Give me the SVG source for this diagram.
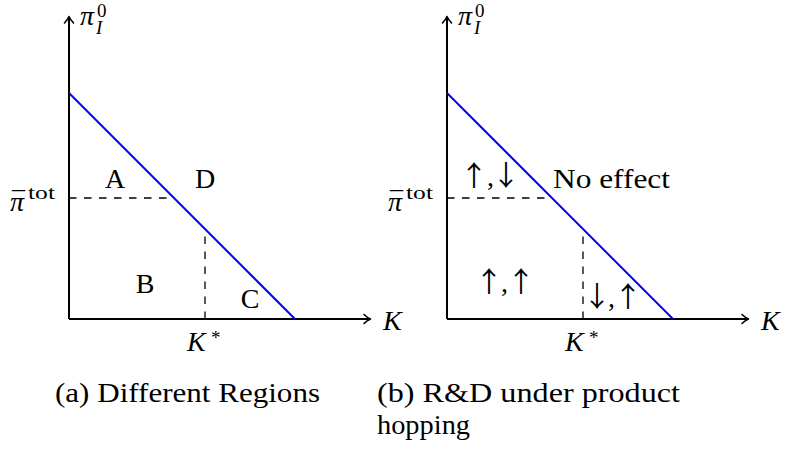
<svg xmlns="http://www.w3.org/2000/svg" width="785" height="451" viewBox="0 0 785 451">
<style>
text{font-family:"Liberation Serif","DejaVu Serif",serif;fill:#000}
.t{font-size:28px}
.s{font-size:19px}
.i{font-style:italic}
.ar{font-family:"Noto Sans CJK JP","DejaVu Sans",sans-serif;font-size:28px;text-anchor:middle}
.ax{stroke:#000;stroke-width:2;fill:none}
.ah{stroke:#000;stroke-width:1.6;fill:none;stroke-linecap:round;stroke-linejoin:round}
.bl{stroke:#0000ff;stroke-width:2;fill:none}
.da{stroke:#000;stroke-width:1.3;stroke-dasharray:7.5 7.5;fill:none}
</style>
<rect width="785" height="451" fill="#fff"/>
<g id="panel-a">
  <g id="connectors-a">
    <path class="ax" d="M69,319 V17 M69,319 H370"/>
    <path class="ah" d="M64.5,23 Q67.5,20 69,16.5 Q70.5,20 73.5,23"/>
    <path class="ah" d="M364,314.5 Q367,317.5 370.5,319 Q367,320.5 364,323.5"/>
    <path class="bl" d="M69,93 L295,319"/>
    <path class="da" d="M69,198 H174"/>
    <path class="da" d="M205,319 V229"/>
  </g>
  <g id="axis-labels-a">
    <text class="t i" x="80" y="25">π</text>
    <text class="s" x="97" y="17">0</text>
    <text class="s i" x="96" y="34">I</text>
    <text class="t i" x="10" y="211">π</text>
    <text class="t" x="12" y="211" textLength="13" lengthAdjust="spacingAndGlyphs">¯</text>
    <text class="s" x="28" y="199" textLength="27" lengthAdjust="spacingAndGlyphs">tot</text>
    <text class="t i" x="383" y="330">K</text>
    <text class="t i" x="187" y="351">K</text>
    <text class="s" x="211" y="344">*</text>
  </g>
  <g id="region-A"><text class="t" x="115" y="188" text-anchor="middle">A</text></g>
  <g id="region-D"><text class="t" x="205" y="188" text-anchor="middle">D</text></g>
  <g id="region-B"><text class="t" x="145" y="293" text-anchor="middle">B</text></g>
  <g id="region-C"><text class="t" x="250" y="308" text-anchor="middle">C</text></g>
  <g id="caption-a"><text class="t" x="55" y="402" textLength="265" lengthAdjust="spacingAndGlyphs">(a) Different Regions</text></g>
</g>
<g id="panel-b">
  <g id="connectors-b">
    <path class="ax" d="M447,319 V17 M447,319 H748"/>
    <path class="ah" d="M442.5,23 Q445.5,20 447,16.5 Q448.5,20 451.5,23"/>
    <path class="ah" d="M742,314.5 Q745,317.5 748.5,319 Q745,320.5 742,323.5"/>
    <path class="bl" d="M447,93 L673,319"/>
    <path class="da" d="M447,198 H552"/>
    <path class="da" d="M583,319 V229"/>
  </g>
  <g id="axis-labels-b">
    <text class="t i" x="458" y="25">π</text>
    <text class="s" x="475" y="17">0</text>
    <text class="s i" x="474" y="34">I</text>
    <text class="t i" x="388" y="211">π</text>
    <text class="t" x="390" y="211" textLength="13" lengthAdjust="spacingAndGlyphs">¯</text>
    <text class="s" x="406" y="199" textLength="27" lengthAdjust="spacingAndGlyphs">tot</text>
    <text class="t i" x="761" y="330">K</text>
    <text class="t i" x="565" y="351">K</text>
    <text class="s" x="589" y="344">*</text>
  </g>
  <g id="region-up-down">
    <text class="ar" x="474" y="186">↑</text><text class="t" x="487" y="186">,</text><text class="ar" x="506" y="186">↓</text>
  </g>
  <g id="region-no-effect"><text class="t" x="553" y="188" textLength="117" lengthAdjust="spacingAndGlyphs">No effect</text></g>
  <g id="region-up-up">
    <text class="ar" x="489" y="292">↑</text><text class="t" x="501" y="292">,</text><text class="ar" x="521" y="292">↑</text>
  </g>
  <g id="region-down-up">
    <text class="ar" x="597" y="307">↓</text><text class="t" x="608" y="307">,</text><text class="ar" x="628" y="307">↑</text>
  </g>
  <g id="caption-b">
    <text class="t" x="377" y="402" textLength="303" lengthAdjust="spacingAndGlyphs">(b) R&amp;D under product</text>
    <text class="t" x="377" y="434" textLength="93" lengthAdjust="spacingAndGlyphs">hopping</text>
  </g>
</g>
</svg>
